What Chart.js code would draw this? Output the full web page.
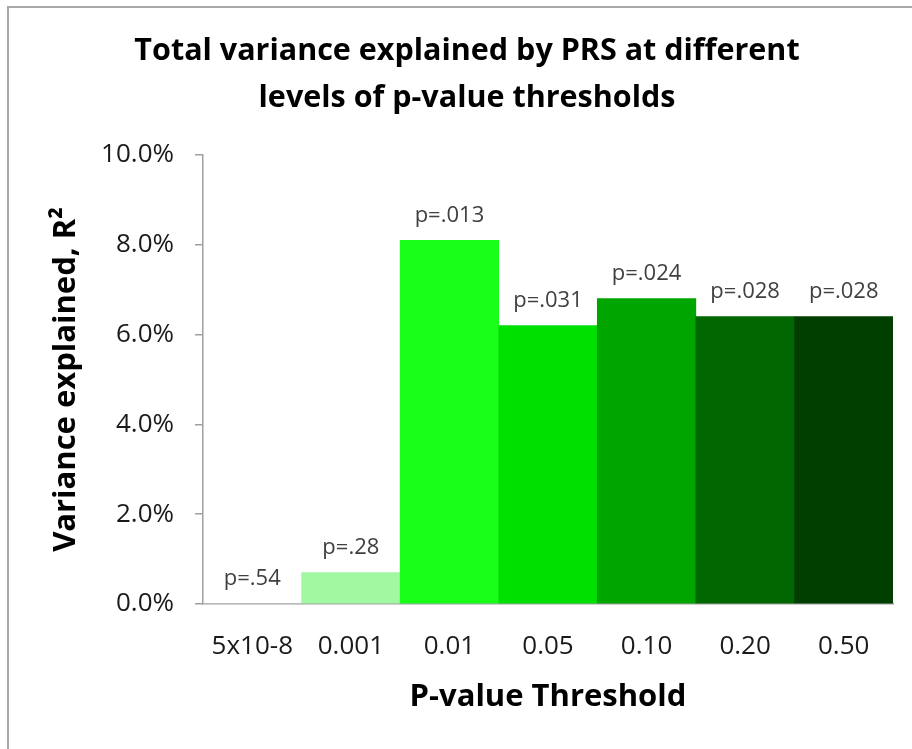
<!DOCTYPE html>
<html>
<head>
<meta charset="utf-8">
<script src="https://cdn.jsdelivr.net/npm/chart.js@4/dist/chart.umd.min.js"></script>
<style>
  body { margin: 0; background: #fff; }
  #frame { position: absolute; left: 7px; top: 6px; width: 940px; height: 800px; border-left: 2px solid #a8a8a8; border-top: 2px solid #a8a8a8; }
  #chart { position: absolute; left: 0; top: 0; }
</style>
</head>
<body>
<div id="frame"></div>
<canvas id="chart" width="912" height="749"></canvas>
<script>
const thresholds = ['5x10-8', '0.001', '0.01', '0.05', '0.10', '0.20', '0.50'];
const r2 = [0.000, 0.007, 0.081, 0.062, 0.068, 0.064, 0.064];
const pLabels = ['p=.54', 'p=.28', 'p=.013', 'p=.031', 'p=.024', 'p=.028', 'p=.028'];
const barColors = ['#ffffff', '#a2f8a0', '#1aff1a', '#00e000', '#00a500', '#006600', '#003f00'];

const FONT = '"Open Sans", Lato, sans-serif';

// draw the p= labels above each bar
const pLabelPlugin = {
  id: 'pLabels',
  afterDatasetsDraw(chart) {
    const ctx = chart.ctx;
    const bars = chart.getDatasetMeta(0).data;
    ctx.save();
    ctx.font = '22px ' + FONT;
    ctx.fillStyle = '#404040';
    ctx.textAlign = 'center';
    ctx.textBaseline = 'middle';
    bars.forEach((bar, i) => {
      ctx.fillText(pLabels[i], bar.x, bar.y - 25);
    });
    ctx.restore();
  }
};

new Chart(document.getElementById('chart').getContext('2d'), {
  type: 'bar',
  data: {
    labels: thresholds,
    datasets: [{
      data: r2,
      backgroundColor: barColors,
      borderWidth: 0,
      barPercentage: 1,
      categoryPercentage: 1
    }]
  },
  options: {
    responsive: false,
    animation: false,
    layout: { padding: { left: 41, right: 19, top: 0, bottom: 0 } },
    plugins: {
      legend: { display: false },
      tooltip: { enabled: false },
      title: {
        display: true,
        text: ['Total variance explained by PRS at different', 'levels of p-value thresholds'],
        color: '#000',
        font: { family: FONT, size: 30.5, weight: 'bold', lineHeight: 1.54 },
        padding: { top: 28, bottom: 33 }
      }
    },
    scales: {
      x: {
        grid: { display: false, drawTicks: false },
        border: { display: true, color: '#a0a0a0', width: 1.5 },
        ticks: { color: '#1a1a1a', font: { family: FONT, size: 26 }, padding: 27, maxRotation: 0 },
        title: {
          display: true,
          text: 'P-value Threshold',
          color: '#000',
          font: { family: FONT, size: 31, weight: 'bold' },
          padding: { top: 4, bottom: 33 }
        },
        afterFit(scale) { scale.height = 145; }
      },
      y: {
        min: 0,
        max: 0.1,
        grid: { drawOnChartArea: false, drawTicks: true, tickLength: 8, color: '#a0a0a0', lineWidth: 1.5 },
        border: { display: true, color: '#a0a0a0', width: 1.5 },
        ticks: {
          stepSize: 0.02,
          color: '#1a1a1a',
          font: { family: FONT, size: 26 },
          padding: 21,
          callback: (v) => (v * 100).toFixed(1) + '%'
        },
        title: {
          display: true,
          text: 'Variance explained, R²',
          color: '#000',
          font: { family: FONT, size: 31, weight: 'bold' },
          padding: { top: 7, bottom: 0 }
        },
        afterFit(scale) { scale.width = 162; }
      }
    }
  },
  plugins: [pLabelPlugin]
});
</script>
</body>
</html>
